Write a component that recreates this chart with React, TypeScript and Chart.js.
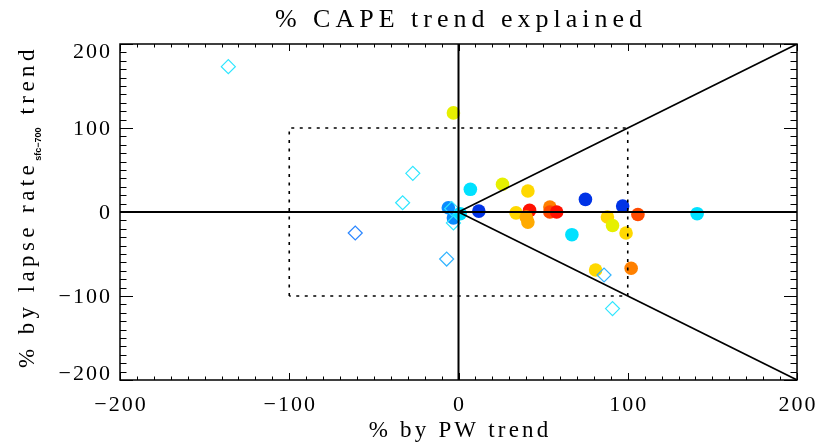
import React, { useEffect, useRef } from "react";
import { Chart, registerables } from "chart.js";

Chart.register(...registerables);

// ---- axis setup ----
const X_MIN = -200;
const X_MAX = 200;
const Y_MIN = -200;
const Y_MAX = 200;
const MAJOR_STEP = 100;
const MINOR_STEP = 10;

const TITLE = "% CAPE trend explained";
const X_TITLE = "% by PW trend";
const Y_TITLE_MAIN = "% by lapse rate";
const Y_TITLE_SUB = "sfc\u2212700";
const Y_TITLE_END = " trend";

// ---- filled circles ----
const circleX = [7, 26, 41, 75, 97, 12, 34, 42, 40, 41, 54, 54, 58, 67, 88, 91, 99, 106, 102, 81, 141, -3, -6, -3, 1];
const circleY = [27, 33, 25, 15, 7, 1, -1, 2, -6, -12, 6, 0, 0, -27, -6, -16, -25, -3, -67, -69, -2, 118, 5, -7, -2];
// colour class of each circle (index into circlePalette)
const circleTone = [2, 3, 4, 0, 0, 0, 4, 8, 5, 5, 6, 7, 8, 2, 4, 3, 4, 7, 6, 4, 2, 3, 1, 1, 2];
const circlePalette = [
  "#0033e6", // dark blue
  "#0a8cff", // blue
  "#00e1ff", // cyan
  "#e6f000", // yellow-green
  "#ffd800", // gold
  "#ffaa00", // amber
  "#ff8000", // orange
  "#ff4a00", // orange-red
  "#ff1000", // red
];

// ---- open diamonds ----
const diamondX = [-136, -27, -33, -61, -7, 86, 91, -4, -3];
const diamondY = [173, 46, 11, -25, -56, -75, -115, 4, -13];
const diamondTone = [0, 0, 0, 2, 1, 1, 0, 0, 0];
const diamondPalette = ["#2ee6ff", "#33b4ff", "#2a86ff"];

// ---- reference lines ----
const diagUpX = [0, 200];
const diagUpY = [0, 200];
const diagDownX = [0, 200];
const diagDownY = [0, -200];
const boxX = [-100, -100, 100, 100, -100];
const boxY = [-100, 100, 100, -100, -100];
const zeroHX = [-200, 200];
const zeroHY = [0, 0];
const zeroVX = [0, 0];
const zeroVY = [-200, 200];

const FONT = "'Liberation Serif', 'Times New Roman', serif";

const zip = (xs: number[], ys: number[]) => xs.map((x, i) => ({ x, y: ys[i] }));

const idlPlugin = {
  id: "idlFrame",
  afterDatasetsDraw(chart: any) {
    const ctx: CanvasRenderingContext2D = chart.ctx;
    const { left, right, top, bottom } = chart.chartArea;
    const xs = chart.scales.x;
    const ys = chart.scales.y;
    ctx.save();
    ctx.strokeStyle = "#000";
    ctx.lineWidth = 1.5;
    ctx.strokeRect(left, top, right - left, bottom - top);
    ctx.lineWidth = 1;
    ctx.beginPath();
    const nx = Math.round((xs.max - xs.min) / MINOR_STEP);
    for (let i = 0; i <= nx; i++) {
      const v = xs.min + i * MINOR_STEP;
      const px = Math.round(xs.getPixelForValue(v)) + 0.5;
      const major = Math.abs(v % MAJOR_STEP) < 1e-6;
      const len = major ? 7 : 3.5;
      ctx.moveTo(px, bottom);
      ctx.lineTo(px, bottom - len);
      ctx.moveTo(px, top);
      ctx.lineTo(px, top + len);
    }
    const ny = Math.round((ys.max - ys.min) / MINOR_STEP);
    for (let i = 0; i <= ny; i++) {
      const v = ys.min + i * MINOR_STEP;
      const py = Math.round(ys.getPixelForValue(v)) + 0.5;
      const major = Math.abs(v % MAJOR_STEP) < 1e-6;
      const len = major ? 13 : 6.5;
      ctx.moveTo(left, py);
      ctx.lineTo(left + len, py);
      ctx.moveTo(right, py);
      ctx.lineTo(right - len, py);
    }
    ctx.stroke();
    ctx.restore();
  },
  afterDraw(chart: any) {
    const ctx: any = chart.ctx;
    const { left, right, top, bottom } = chart.chartArea;
    const xs = chart.scales.x;
    const ys = chart.scales.y;
    const fmt = (v: number) => (v < 0 ? "\u2212" + Math.abs(v) : String(v));
    ctx.save();
    ctx.fillStyle = "#000";
    ctx.textBaseline = "alphabetic";

    // tick labels
    const tls = 2;
    ctx.font = `22px ${FONT}`;
    ctx.letterSpacing = tls + "px";
    ctx.textAlign = "center";
    xs.ticks.forEach((t: any) => {
      const px = xs.getPixelForValue(t.value);
      ctx.fillText(fmt(t.value), px + tls / 2, bottom + 31);
    });
    ctx.textAlign = "right";
    ys.ticks.forEach((t: any) => {
      let py = ys.getPixelForValue(t.value);
      py = Math.min(Math.max(py, top + 7), bottom - 7);
      ctx.fillText(fmt(t.value), left - 10 + tls, py + 7);
    });

    // title
    const cx = (left + right) / 2;
    ctx.font = `26px ${FONT}`;
    ctx.letterSpacing = "5px";
    ctx.textAlign = "center";
    ctx.fillText(TITLE, cx + 2.5, 27);

    // x title
    ctx.font = `23px ${FONT}`;
    ctx.letterSpacing = "3.2px";
    ctx.fillText(X_TITLE, cx + 1.6, 437);

    // y title (rotated, with subscript)
    ctx.save();
    ctx.translate(34, 368);
    ctx.rotate(-Math.PI / 2);
    ctx.textAlign = "left";
    ctx.font = `23px ${FONT}`;
    ctx.letterSpacing = "4.4px";
    ctx.fillText(Y_TITLE_MAIN, 0, 0);
    let cur = ctx.measureText(Y_TITLE_MAIN).width;
    ctx.font = `bold 9px 'Liberation Sans', Arial, sans-serif`;
    ctx.letterSpacing = "0px";
    ctx.fillText(Y_TITLE_SUB, cur, 7);
    cur += ctx.measureText(Y_TITLE_SUB).width + 3;
    ctx.font = `23px ${FONT}`;
    ctx.letterSpacing = "4.4px";
    ctx.fillText(Y_TITLE_END, cur, 0);
    ctx.restore();

    ctx.restore();
  },
};

export default function App() {
  const ref = useRef<HTMLCanvasElement | null>(null);
  useEffect(() => {
    if (!ref.current) return;
    const lineDs = (xs: number[], ys: number[], width: number, dash: number[] = []) => ({
      data: zip(xs, ys),
      showLine: true,
      borderColor: "#000",
      borderWidth: width,
      borderDash: dash,
      pointRadius: 0,
      pointHoverRadius: 0,
      fill: false,
      tension: 0,
      order: 0,
    });
    const chart = new Chart(ref.current, {
      type: "scatter",
      data: {
        datasets: [
          lineDs(zeroHX, zeroHY, 2),
          lineDs(zeroVX, zeroVY, 2),
          lineDs(diagUpX, diagUpY, 1.6),
          lineDs(diagDownX, diagDownY, 1.6),
          lineDs(boxX, boxY, 1.6, [3, 5.5]),
          {
            data: zip(diamondX, diamondY),
            pointStyle: "rectRot",
            pointRadius: 7,
            pointBorderWidth: 1.2,
            pointBorderColor: diamondTone.map((t) => diamondPalette[t]),
            pointBackgroundColor: "rgba(0,0,0,0)",
            showLine: false,
            order: 1,
          } as any,
          {
            data: zip(circleX, circleY),
            pointStyle: "circle",
            pointRadius: 6.8,
            pointBorderWidth: 0,
            pointBackgroundColor: circleTone.map((t) => circlePalette[t]),
            pointBorderColor: circleTone.map((t) => circlePalette[t]),
            showLine: false,
            order: 2,
          } as any,
        ] as any,
      },
      options: {
        animation: false,
        responsive: false,
        devicePixelRatio: 1,
        events: [],
        layout: { padding: { left: 120, right: 21, top: 44, bottom: 66 } },
        plugins: {
          legend: { display: false },
          tooltip: { enabled: false },
          title: { display: false },
        },
        scales: {
          x: {
            type: "linear",
            min: X_MIN,
            max: X_MAX,
            ticks: { display: false, stepSize: MAJOR_STEP },
            grid: { display: false },
            border: { display: false },
            afterFit: (s: any) => {
              s.height = 0;
            },
          },
          y: {
            type: "linear",
            min: Y_MIN,
            max: Y_MAX,
            ticks: { display: false, stepSize: MAJOR_STEP },
            grid: { display: false },
            border: { display: false },
            afterFit: (s: any) => {
              s.width = 0;
            },
          },
        },
      } as any,
      plugins: [idlPlugin],
    });
    return () => chart.destroy();
  }, []);
  return (
    <div style={{ position: "absolute", left: 0, top: 0, width: 818, height: 446, background: "#fff" }}>
      <canvas ref={ref} width={818} height={446} style={{ display: "block" }} />
    </div>
  );
}
